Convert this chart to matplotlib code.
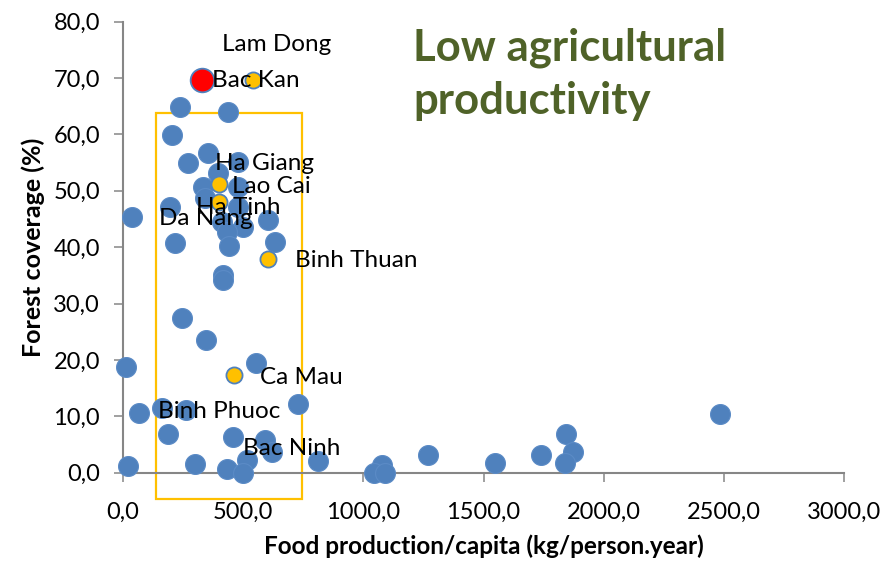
import matplotlib
matplotlib.use("Agg")
import matplotlib.pyplot as plt
from matplotlib.patches import Rectangle
from matplotlib.ticker import FuncFormatter, MultipleLocator

# provinces without a label
food_blue = [238, 439, 204, 356, 273, 480, 397, 335, 480, 342, 197, 480, 40, 605,
             411, 501, 432, 633, 217, 442, 416, 416, 245, 346, 12, 554, 69, 162,
             262, 730, 190, 460, 591, 619, 23, 300, 435, 515, 499, 813,
             2483, 1843, 1871, 1840, 1737, 1546, 1268, 1076, 1046, 1089]
forest_blue = [64.8, 64.0, 59.9, 56.7, 55.0, 55.2, 53.2, 50.7, 50.7, 48.7, 47.2, 47.2,
               45.3, 44.8, 44.5, 43.6, 42.7, 41.0, 40.7, 40.2, 35.1, 34.2, 27.4, 23.5,
               18.7, 19.4, 10.6, 11.4, 11.2, 12.2, 6.8, 6.3, 5.8, 3.7, 1.1, 1.5, 0.7,
               2.3, 0.0, 2.1, 10.4, 6.9, 3.6, 1.8, 3.1, 1.7, 3.2, 1.4, 0.0, 0.0]

# highlighted provinces
names_yellow = ["Lam Dong", "Lao Cai", "Ha Tinh", "Binh Thuan", "Ca Mau"]
food_yellow = [540, 401, 401, 605, 463]
forest_yellow = [69.6, 51.2, 48.1, 37.9, 17.3]

name_red = "Bac Kan"
food_red = [328]
forest_red = [69.6]

# blue provinces that carry a label: index into the blue lists
blue_labels = {"Ha Giang": 6, "Da Nang": 12, "Binh Phuoc": 26, "Bac Ninh": 37}

# label offsets in points (layout only)
offsets = {"Lam Dong": (-22, 26), "Bac Kan": (7.5, 0), "Ha Giang": (-2.5, 6.5),
           "Lao Cai": (9, -2), "Ha Tinh": (-17, -4), "Da Nang": (19, -1),
           "Binh Thuan": (19, -1), "Ca Mau": (18.5, -2), "Binh Phuoc": (13.5, 1),
           "Bac Ninh": (-2.5, 8)}

box_x = (137, 744)
box_y = (-4.7, 63.8)

plt.rcParams['font.family'] = ['Lato', 'DejaVu Sans']

fig = plt.figure(figsize=(8.85, 5.61), dpi=100)
ax = fig.add_axes([0.1386, 0.1574, 0.8156, 0.8039])

blue = '#4F81BD'
ax.scatter(food_blue, forest_blue, s=205, color=blue, edgecolor='#5B8BC6',
           linewidth=0.8, zorder=3, clip_on=False)
ax.scatter(food_yellow, forest_yellow, s=135, color='#FFC000', edgecolor=blue,
           linewidth=1.3, zorder=4, clip_on=False)
ax.scatter(food_red, forest_red, s=290, color='#FF0000', edgecolor=blue,
           linewidth=1.3, zorder=5, clip_on=False)

def label(name, x, y):
    dx, dy = offsets[name]
    ax.annotate(name, (x, y), xytext=(dx, dy), textcoords='offset points',
                ha='left', va='center', fontsize=17.5, color='black', zorder=6)

for n, x, y in zip(names_yellow, food_yellow, forest_yellow):
    label(n, x, y)
label(name_red, food_red[0], forest_red[0])
for n, i in blue_labels.items():
    label(n, food_blue[i], forest_blue[i])

ax.add_patch(Rectangle((box_x[0], box_y[0]), box_x[1] - box_x[0], box_y[1] - box_y[0],
                       fill=False, edgecolor='#FFC000', linewidth=1.6, zorder=2,
                       clip_on=False))

ax.set_xlim(0, 3000)
ax.set_ylim(0, 80)
ax.xaxis.set_major_locator(MultipleLocator(500))
ax.yaxis.set_major_locator(MultipleLocator(10))
fmt = FuncFormatter(lambda v, p: f"{v:.1f}".replace('.', ','))
ax.xaxis.set_major_formatter(fmt)
ax.yaxis.set_major_formatter(fmt)

for side in ['top', 'right']:
    ax.spines[side].set_visible(False)
for side in ['left', 'bottom']:
    ax.spines[side].set_color('#868686')
    ax.spines[side].set_linewidth(1.5)
ax.tick_params(axis='both', direction='out', length=6.3, width=1.1, color='#868686',
               labelsize=17, labelcolor='black')
ax.tick_params(axis='y', pad=10)
ax.tick_params(axis='x', pad=15)

ax.set_xlabel("Food production/capita (kg/person.year)", fontsize=17.5,
              fontweight='bold', labelpad=8)
ax.set_ylabel("Forest coverage (%)", fontsize=18, fontweight='bold', labelpad=6)

fig.text(413 / 885, 1 - 28 / 561, "Low agricultural\nproductivity", fontsize=31.5,
         fontweight='bold', color='#4F6228', ha='left', va='top', linespacing=1.38)

fig.savefig("out.png", dpi=100)
